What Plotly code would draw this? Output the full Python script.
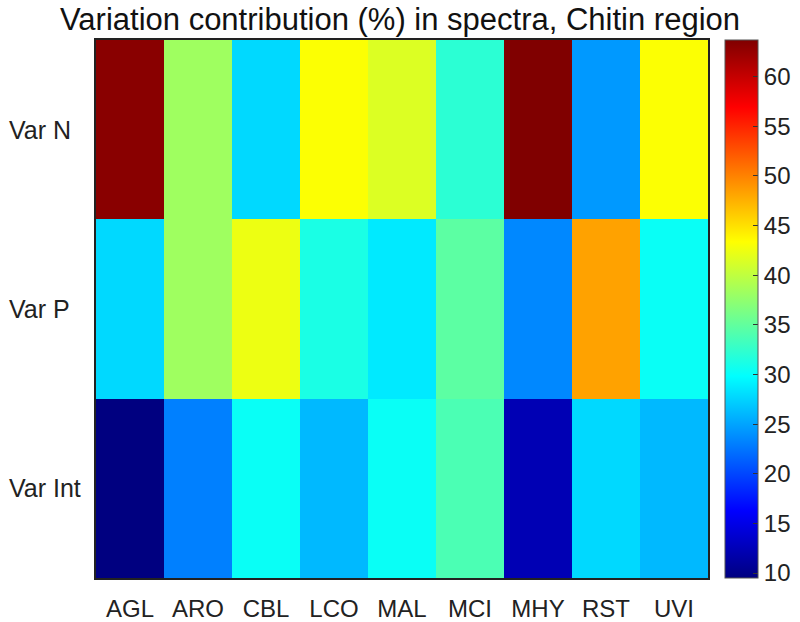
import plotly.graph_objects as go

species = ["AGL", "ARO", "CBL", "LCO", "MAL", "MCI", "MHY", "RST", "UVI"]
rows = ["Var N", "Var P", "Var Int"]

var_n = [63.2, 38.3, 27.8, 43.2, 41.5, 32.1, 63.7, 24.4, 43.2]
var_p = [27.8, 38.3, 42.4, 31.2, 28.7, 34.7, 23.5, 48.3, 30.3]
var_int = [9.5, 23.1, 30.3, 26.1, 30.3, 33.8, 12.3, 27.8, 26.1]

cbar_ticks = [10, 15, 20, 25, 30, 35, 40, 45, 50, 55, 60]

jet = [
    [0.0, "rgb(0,0,128)"],
    [0.125, "rgb(0,0,255)"],
    [0.375, "rgb(0,255,255)"],
    [0.625, "rgb(255,255,0)"],
    [0.875, "rgb(255,0,0)"],
    [1.0, "rgb(128,0,0)"],
]

z = [var_n, var_p, var_int]
FONT = "Liberation Sans, Arial"

fig = go.Figure(
    go.Heatmap(
        z=z,
        x=species,
        y=rows,
        colorscale=jet,
        zmin=min(min(r) for r in z),
        zmax=max(max(r) for r in z),
        colorbar=dict(
            tickvals=cbar_ticks,
            ticks="inside",
            ticklen=5,
            tickcolor="#333",
            thickness=33,
            len=1,
            lenmode="fraction",
            y=0.5,
            yanchor="middle",
            ypad=0,
            x=1 + 17 / 612,
            xanchor="left",
            xpad=0,
            outlinewidth=1,
            outlinecolor="#555",
            tickfont=dict(family=FONT, size=24, color="#222"),
        ),
    )
)

for r in rows:
    fig.add_annotation(
        x=-89 / 612,
        xref="paper",
        y=r,
        yref="y",
        text=r,
        showarrow=False,
        xanchor="left",
        font=dict(family=FONT, size=25, color="#222"),
    )

fig.update_layout(
    width=800,
    height=622,
    margin=dict(l=96, r=92, t=40, b=44, autoexpand=False),
    paper_bgcolor="white",
    plot_bgcolor="white",
    title=dict(
        text="Variation contribution (%) in spectra, Chitin region",
        x=0.5,
        xanchor="center",
        y=1 - 19 / 622,
        yanchor="middle",
        font=dict(family=FONT, size=31, color="#111"),
    ),
    xaxis=dict(
        showgrid=False,
        ticks="",
        ticklabelstandoff=8,
        automargin=False,
        tickfont=dict(family=FONT, size=24, color="#222"),
        showline=True,
        mirror=True,
        linecolor="#222",
        linewidth=2,
    ),
    yaxis=dict(
        showgrid=False,
        autorange="reversed",
        showticklabels=False,
        automargin=False,
        ticks="",
        showline=True,
        mirror=True,
        linecolor="#222",
        linewidth=2,
    ),
)

fig.write_html(
    "out.html",
    config={"displayModeBar": False},
    post_script="document.body.style.margin='0';document.body.style.overflow='hidden';",
)
